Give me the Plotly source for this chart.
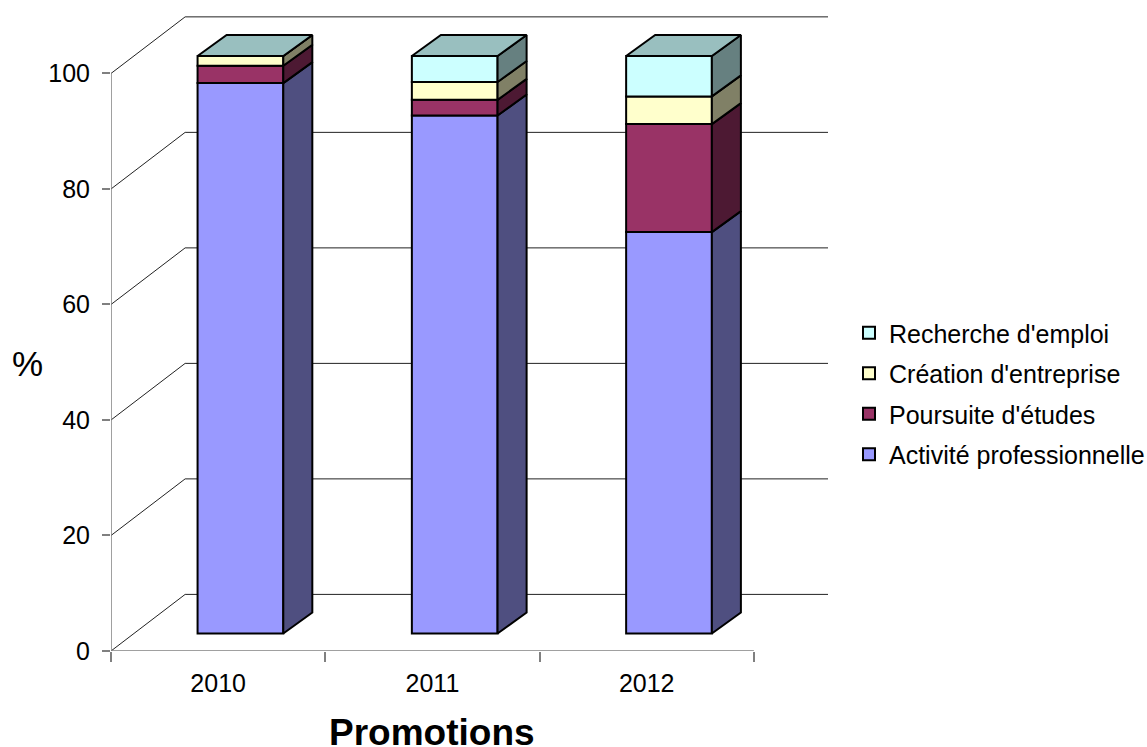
import plotly.graph_objects as go

promotions = ["2010", "2011", "2012"]
series_names = ["Activité professionnelle", "Poursuite d'études", "Création d'entreprise", "Recherche d'emploi"]
activite = [95.3, 89.7, 69.5]
poursuite = [3.0, 2.7, 18.7]
creation = [1.7, 3.1, 4.8]
recherche = [0.0, 4.5, 7.0]
y_ticks = [0, 20, 40, 60, 80, 100]

front_colors = ["#9999FF", "#993366", "#FFFFCC", "#CCFFFF"]
side_colors = ["#4F4F80", "#4D1933", "#808066", "#668080"]
top_color = "#99BFBF"
FONT = "Liberation Sans, Arial, sans-serif"
AXIS = "#808080"

WALL_DX, WALL_DY = 0.346, 9.8   # depth of the 3D box
BAR_X, BAR_Y = 0.104, 3.03      # bar offset from front plane
BAR_W = 0.4
SIDE_DX, SIDE_DY = 0.1355, 3.63
EDGE = 2

values = [activite, poursuite, creation, recherche]
xs = list(range(len(promotions)))
fig = go.Figure()

cum = [BAR_Y] * len(xs)
for i, (name, vals, fc, sc) in enumerate(zip(series_names, values, front_colors, side_colors)):
    fig.add_trace(go.Bar(
        x=[x + BAR_X for x in xs], y=vals, base=list(cum), width=BAR_W, name=name,
        legendgroup=name, legendrank=100 - i,
        marker=dict(color=fc, line=dict(color="black", width=EDGE)), hoverinfo="name+y"))
    px, py = [], []
    for x, b, v in zip(xs, cum, vals):
        r = x + BAR_X + BAR_W / 2
        px += [r, r + SIDE_DX, r + SIDE_DX, r, r, None]
        py += [b, b + SIDE_DY, b + v + SIDE_DY, b + v, b, None]
    fig.add_trace(go.Scatter(x=px, y=py, mode="lines", fill="toself", fillcolor=sc,
                             line=dict(color="black", width=EDGE), showlegend=False, hoverinfo="skip"))
    cum = [c + v for c, v in zip(cum, vals)]

tx, ty = [], []
for x, t in zip(xs, cum):
    l, r = x + BAR_X - BAR_W / 2, x + BAR_X + BAR_W / 2
    tx += [l, r, r + SIDE_DX, l + SIDE_DX, l, None]
    ty += [t, t, t + SIDE_DY, t + SIDE_DY, t, None]
fig.add_trace(go.Scatter(x=tx, y=ty, mode="lines", fill="toself", fillcolor=top_color,
                         line=dict(color="black", width=EDGE), showlegend=False, hoverinfo="skip"))

x_start, x_end = -0.5, len(xs) - 0.5
shapes = []
for t in y_ticks:
    shapes.append(dict(type="line", layer="below", xref="x", yref="y", x0=x_start, y0=t,
                       x1=x_start + WALL_DX, y1=t + WALL_DY, line=dict(color="#222222", width=1)))
    shapes.append(dict(type="line", layer="below", xref="x", yref="y", x0=x_start + WALL_DX, y0=t + WALL_DY,
                       x1=x_end + WALL_DX, y1=t + WALL_DY, line=dict(color="#222222", width=1)))
shapes.append(dict(type="line", layer="below", xref="x", yref="y", x0=x_start, y0=0, x1=x_start, y1=100,
                   line=dict(color=AXIS, width=1.5)))
shapes.append(dict(type="line", layer="below", xref="x", yref="y", x0=x_start, y0=0, x1=x_end, y1=0,
                   line=dict(color=AXIS, width=1.5)))

fig.update_layout(
    width=1147, height=747, margin=dict(l=111, r=319, t=16, b=95.5, autoexpand=False),
    barmode="overlay", paper_bgcolor="white", plot_bgcolor="white",
    font=dict(family=FONT, size=25, color="black"), shapes=shapes,
    legend=dict(x=849 / 1147, y=1 - 310 / 747, xref="container", yref="container", xanchor="left", yanchor="top",
                traceorder="grouped", tracegroupgap=5, font=dict(size=25), itemwidth=30),
    annotations=[
        dict(text="%", xref="paper", yref="paper", x=(27 - 111) / 717, y=(651.5 - 364) / 635.5, showarrow=False,
             font=dict(size=35), xanchor="center", yanchor="middle"),
        dict(text="<b>Promotions</b>", xref="paper", yref="paper", x=(432 - 111) / 717, y=(651.5 - 733) / 635.5,
             showarrow=False, font=dict(size=37), xanchor="center", yanchor="middle"),
    ],
)
fig.update_xaxes(range=[x_start, x_end + WALL_DX], tickmode="array", tickvals=xs, ticktext=promotions,
                 ticks="", showgrid=False, zeroline=False, showline=False, ticklabelstandoff=15,
                 minor=dict(tickmode="array", tickvals=[x - 0.5 for x in xs] + [x_end], ticks="outside",
                            ticklen=10, tickwidth=1.5, tickcolor=AXIS, showgrid=False))
fig.update_yaxes(range=[0, 109.95], tickmode="array", tickvals=y_ticks, ticks="outside", ticklen=8,
                 tickwidth=1.5, tickcolor=AXIS, showgrid=False, zeroline=False, showline=False, ticklabelstandoff=7)

fig.write_html("out.html", config=dict(displayModeBar=False), post_script="document.body.style.margin='0';")
